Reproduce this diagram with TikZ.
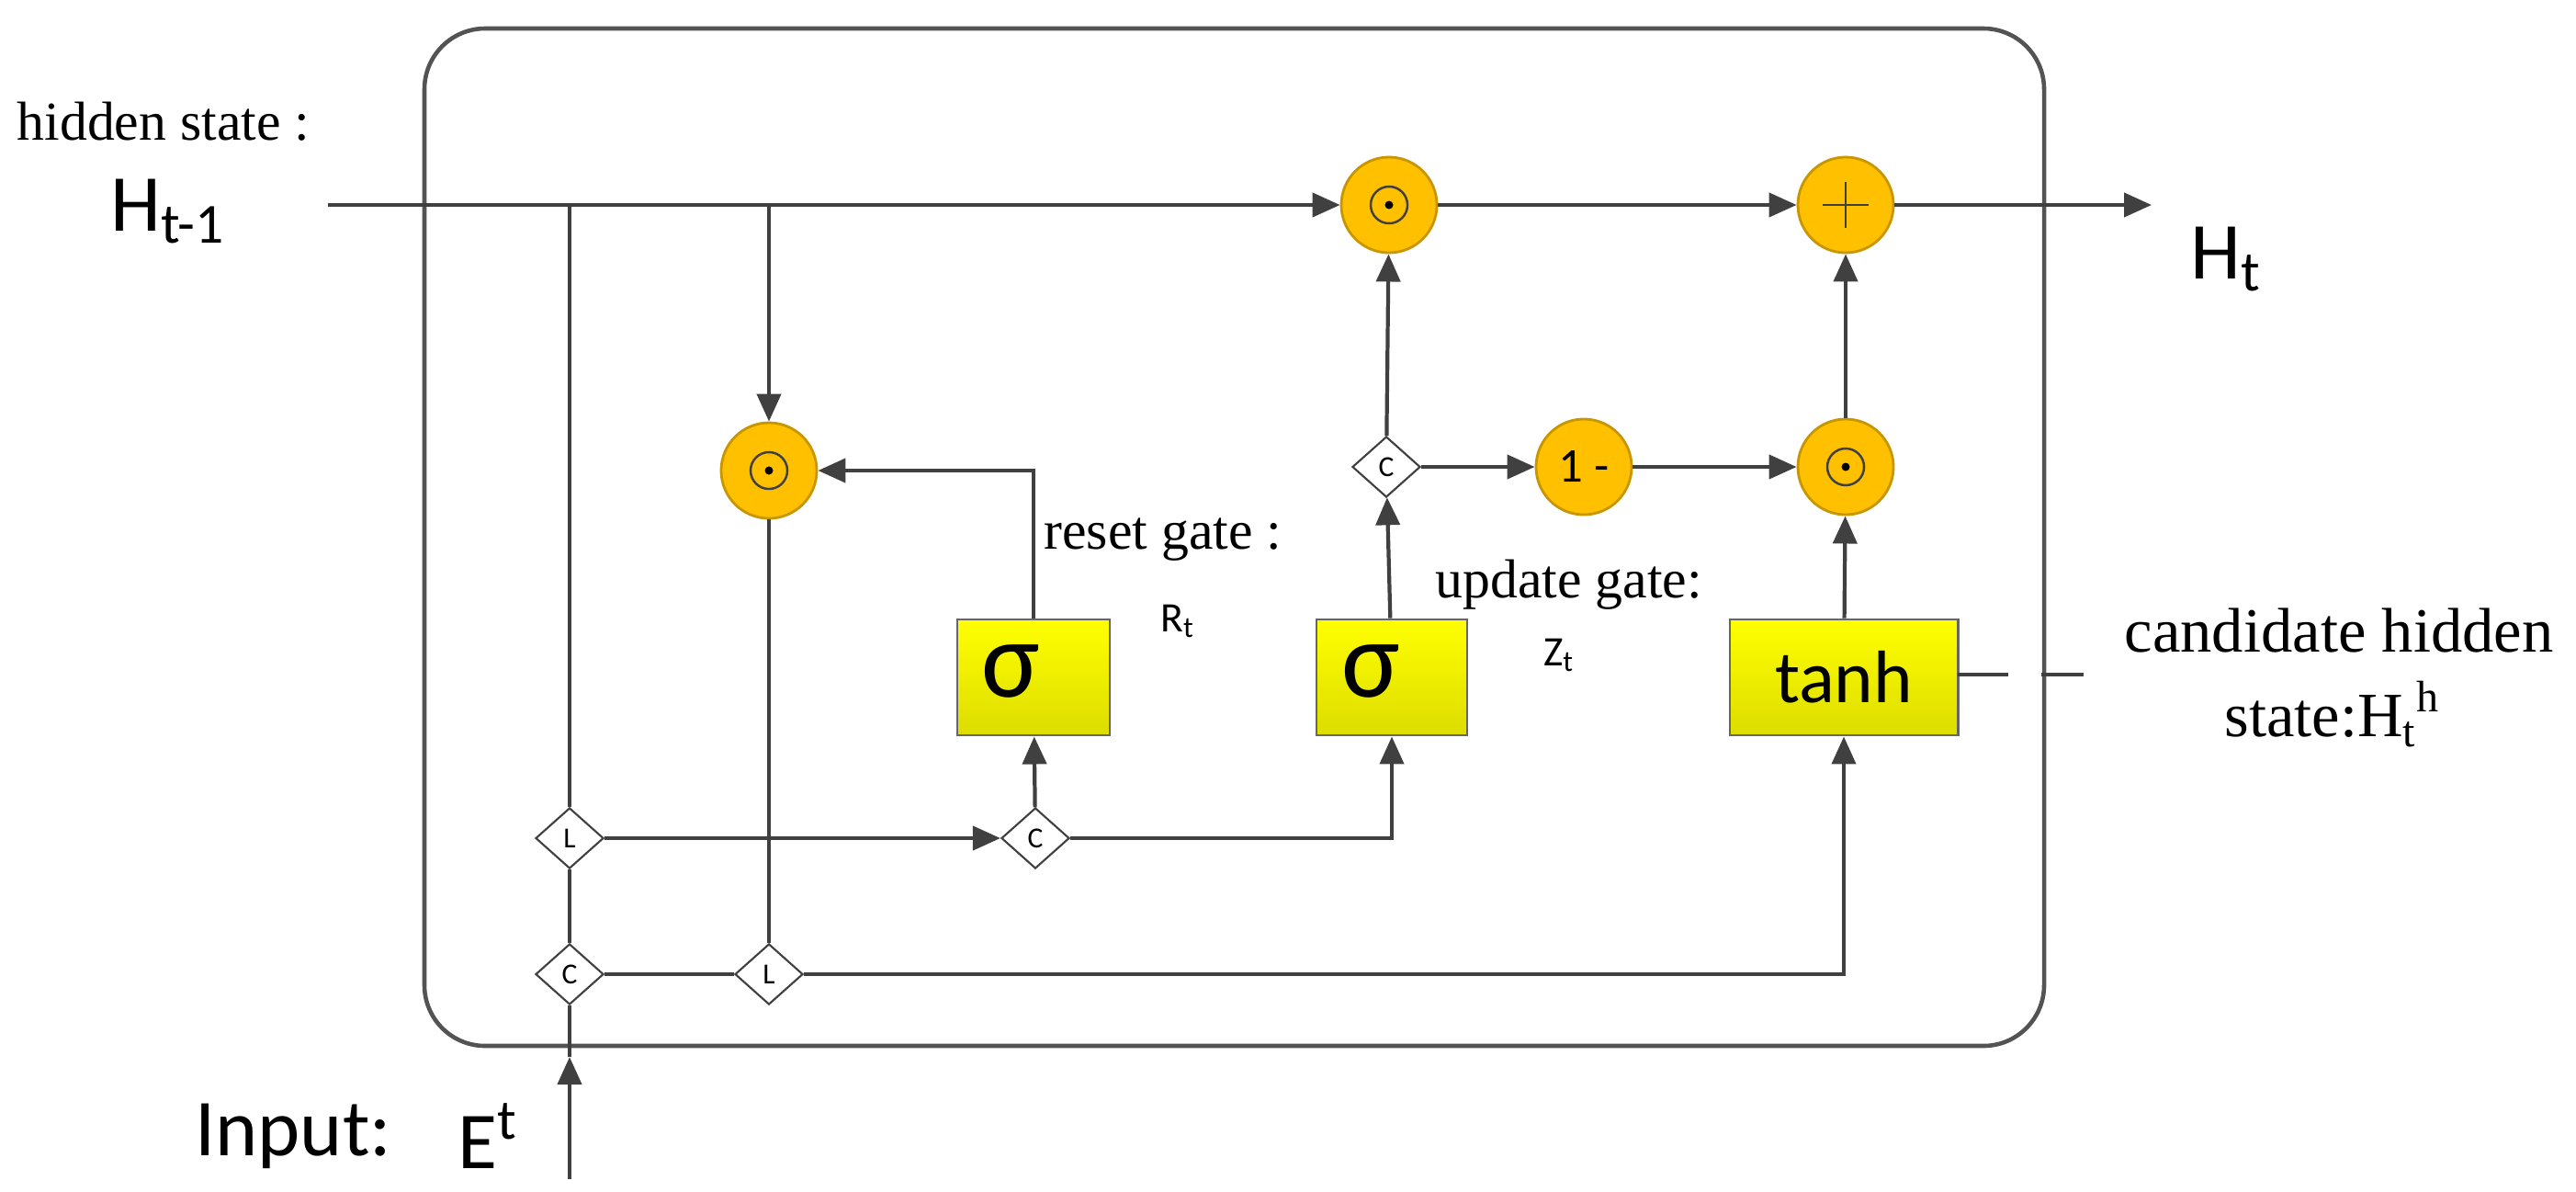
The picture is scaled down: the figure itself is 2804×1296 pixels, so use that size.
\documentclass[tikz,border=0pt]{standalone}
\usepackage{fontspec}
\setmainfont{Liberation Serif}
\newfontfamily\carl{Carlito}
\usetikzlibrary{shapes.geometric,arrows.meta}
\definecolor{ln}{HTML}{404040}
\definecolor{org}{HTML}{FFC000}
\definecolor{orgb}{HTML}{C89600}
\definecolor{yel}{HTML}{F5F500}
\tikzset{
 w/.style={draw=ln,line width=1.2pt},
 a/.style={w,-{Triangle[length=0.3cm,width=0.26cm]}},
 op/.style={circle,draw=orgb,fill=org,minimum size=1.04cm,inner sep=0,line width=0.8pt},
 dm/.style={diamond,draw=ln,fill=white,minimum width=0.74cm,minimum height=0.66cm,inner sep=0,line width=0.6pt,font=\carl\fontsize{9}{9}\selectfont},
 bx/.style={draw=gray!80!black,top color=yellow,bottom color=yel!90!black,minimum height=1.26cm,inner sep=0,line width=0.8pt},
 sl/.style={font=\fontsize{17}{20}\selectfont},
}
\newcommand{\odotmark}[1]{\draw[ln,line width=0.7pt] (#1) circle (0.2cm); \fill[black] (#1) circle (0.045cm);}
\begin{document}
\begin{tikzpicture}[x=0.01cm,y=-0.01cm]
\useasboundingbox (0,0) rectangle (2804,1296);
\draw[draw=ln!90,line width=1.3pt,rounded corners=0.66cm] (462,31) rectangle (2225,1138);
% nodes
\node[op] (o1) at (1512,223) {};
\node[op] (pl) at (2009,223) {};
\node[op] (or) at (837,512) {};
\node[op,font=\carl\fontsize{15}{15}\selectfont] (om) at (1724,508) {1 -};
\node[op] (o2) at (2009,508) {};
\odotmark{o1}\odotmark{or}\odotmark{o2}
\draw[ln,line width=0.8pt] ([xshift=-0.25cm]pl.center) -- ([xshift=0.25cm]pl.center) ([yshift=-0.25cm]pl.center) -- ([yshift=0.25cm]pl.center);
\node[bx,minimum width=1.66cm] (s1) at (1125,737) {};
\node[bx,minimum width=1.64cm] (s2) at (1515,737) {};
\node[bx,minimum width=2.48cm,font=\carl\fontsize{23}{23}\selectfont] (th) at (2007,737) {tanh};
\node[font=\carl\fontsize{34}{34}\selectfont] (sg1) at (1100,730) {σ};
\node[font=\carl\fontsize{34}{34}\selectfont] (sg2) at (1492,730) {σ};
\node[dm] (L1) at (620,912) {L};
\node[dm] (C1) at (1127,912) {C};
\node[dm] (C2) at (1509,508) {C};
\node[dm] (Cb) at (620,1060) {C};
\node[dm] (Lb) at (837,1060) {L};
\coordinate (hin) at (357,223);
\coordinate (j1) at (620,223);
\coordinate (j2) at (837,223);
\coordinate (hout) at (2342,223);
\coordinate (ein) at (620,1283);
\coordinate (etip) at (620,1150);
\coordinate (d1) at (2131,734);
\coordinate (d2) at (2186,734);
\coordinate (d3) at (2222,734);
\coordinate (d4) at (2268,734);
% connectors
\draw[a] (hin) -- (o1);
\draw[w] (j1) -- (L1);
\draw[w] (L1) -- (Cb);
\draw[a] (ein) -- (etip);
\draw[w] (etip) -- (Cb);
\draw[a] (j2) -- (or);
\draw[w] (or) -- (Lb);
\draw[a] (L1) -- (C1);
\draw[a] (C1) -- (s1);
\draw[a] (s1.north) |- (or);
\draw[a] (C1) -| (s2);
\draw[a] (s2) -- (C2);
\draw[a] (C2) -- (o1);
\draw[a] (C2) -- (om);
\draw[a] (om) -- (o2);
\draw[a] (th) -- (o2);
\draw[a] (o2) -- (pl);
\draw[a] (o1) -- (pl);
\draw[a] (pl) -- (hout);
\draw[w] (Cb) -- (Lb);
\draw[a] (Lb) -| (th);
\draw[w] (d1) -- (d2);
\draw[w] (d3) -- (d4);
% labels
\node[sl] (lhs) at (178,132) {hidden state :};
\node[font=\carl\fontsize{25}{25}\selectfont,anchor=west] (lh) at (108,230) {H\textsubscript{t-1}};
\node[font=\carl\fontsize{25}{25}\selectfont,anchor=west] (lht) at (2372,282) {H\textsubscript{t}};
\node[font=\carl\fontsize{25}{25}\selectfont,anchor=west] (lin) at (200,1236) {Input:};
\node[font=\carl\fontsize{25}{25}\selectfont,anchor=west] (le) at (486,1236) {E\textsuperscript{t}};
\node[sl,anchor=west] (lrg) at (1124,587) {reset gate :};
\node[font=\carl\fontsize{13}{13}\selectfont] (lr) at (1282,676) {R\textsubscript{t}};
\node[sl,anchor=west] (lug) at (1550,636) {update gate:};
\node[font=\carl\fontsize{13}{13}\selectfont] (lz) at (1697,713) {Z\textsubscript{t}};
\node[font=\fontsize{19.5}{22}\selectfont] (lc1) at (2546,686) {candidate hidden};
\node[font=\fontsize{19.5}{22}\selectfont] (lc2) at (2539,777) {state:H\textsubscript{t}\textsuperscript{h}};
\end{tikzpicture}
\end{document}
